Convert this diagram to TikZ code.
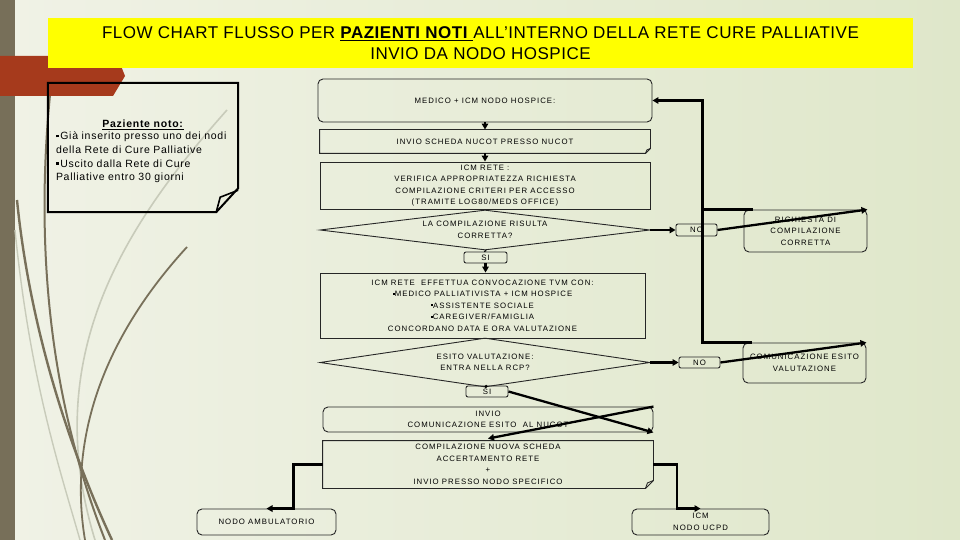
\documentclass[tikz,border=0pt]{standalone}
\usepackage{fontspec}
\setmainfont{Liberation Sans}
\newfontfamily\fcfont[LetterSpace=13]{Liberation Sans}
\newfontfamily\notefont[LetterSpace=7]{Liberation Sans}
\newfontfamily\titlefont[LetterSpace=3]{Liberation Sans}
\usetikzlibrary{shapes.geometric,arrows.meta,calc}
\definecolor{bgleft}{RGB}{240,242,230}
\definecolor{bgright}{RGB}{223,231,202}
\definecolor{barbrown}{RGB}{119,111,89}
\definecolor{redarrow}{RGB}{166,58,28}
\definecolor{curvebrown}{RGB}{120,112,90}
\definecolor{curvegrey}{RGB}{200,203,186}
\definecolor{titleyellow}{RGB}{255,255,0}
\begin{document}
\begin{tikzpicture}[x=1pt,y=-1pt,
  fc/.style={font=\fcfont\fontsize{7.8}{11.5}\selectfont},
  box/.style={draw=black!85, line width=0.9pt, inner sep=0pt, align=center, fc},
  boxline/.style={draw=black!85, line width=0.9pt},
  rbox/.style={box, rounded corners=5pt},
  diam/.style={box, diamond, aspect=8},
  conn/.style={line width=2.3pt, black},
  arr/.style={conn, -{Triangle[length=6pt,width=6.5pt]}},
  notetext/.style={inner sep=0pt, font=\notefont\fontsize{10.5}{13.6}\selectfont},
]
\useasboundingbox (0,0) rectangle (960,540);
% background
\shade[left color=bgleft, right color=bgright] (0,0) rectangle (960,540);
\fill[barbrown] (0,0) rectangle (15,540);
% decorative curves
\draw[curvegrey, line width=1.6pt] (227,110) .. controls (120,230) and (40,360) .. (95,540);
\draw[curvegrey, line width=1.4pt] (15,230) .. controls (30,380) and (60,470) .. (80,540);
\draw[curvebrown, line width=2pt] (50,95) .. controls (35,250) and (50,400) .. (105,540);
\draw[curvebrown, line width=2.4pt] (17,200) .. controls (30,330) and (70,450) .. (112,540);
\draw[curvebrown, line width=1.8pt] (187,247) .. controls (120,320) and (65,420) .. (85,540);
% red arrow
\fill[redarrow] (0,56) -- (117,56) -- (125,76) -- (113,96) -- (0,96) -- cycle;
% title
\node[fill=titleyellow, minimum width=865pt, minimum height=50pt, inner sep=0pt, align=center,
      font=\titlefont\fontsize{17}{21}\selectfont] (title) at (480.5,43)
  {FLOW CHART FLUSSO PER \underline{\textbf{PAZIENTI NOTI}\ }ALL’INTERNO DELLA RETE CURE PALLIATIVE\\INVIO DA NODO HOSPICE};
% note box
\node[minimum width=190pt, minimum height=129pt, inner sep=0pt] (note) at (143,147.5) {};
\draw[black, line width=2pt] (note.north west) -- (note.north east) -- ([yshift=24pt]note.south east)
  -- ([xshift=-22pt]note.south east) -- (note.south west) -- cycle;
\draw[black, line width=1.6pt] ([xshift=-22pt]note.south east) -- ([xshift=-18pt,yshift=15pt]note.south east)
  -- ([yshift=22pt]note.south east);
\node[notetext] (nhead) at (143,124.5) {\underline{\textbf{Paziente noto:}}};
\node[notetext, text width=182pt, align=left] (notetxt) at (147,157.5)
  {\raisebox{2.5pt}{\rule{2.6pt}{2.6pt}}\,Già inserito presso uno dei nodi\\
   della Rete di Cure Palliative\\
   \raisebox{2.5pt}{\rule{2.6pt}{2.6pt}}\,Uscito dalla Rete di Cure\\
   Palliative entro 30 giorni};
% flowchart nodes
\node[rbox, minimum width=334pt, minimum height=43pt] (medico) at (485,100.5) {MEDICO + ICM NODO HOSPICE:};
\node[box, draw=none, minimum width=330pt, minimum height=23pt] (scheda) at (485,141.5) {INVIO SCHEDA NUCOT PRESSO NUCOT};
\draw[boxline] (scheda.north west) -- (scheda.north east) -- ([yshift=5pt]scheda.south east)
  -- ([xshift=-5pt]scheda.south east) -- (scheda.south west) -- cycle;
\draw[boxline] ([yshift=5pt]scheda.south east) -- ([xshift=-3.5pt,yshift=3.5pt]scheda.south east) -- ([xshift=-5pt]scheda.south east);
\node[box, minimum width=330pt, minimum height=47pt] (icm) at (485,185.5)
  {ICM RETE :\\VERIFICA APPROPRIATEZZA RICHIESTA\\COMPILAZIONE CRITERI PER ACCESSO\\(TRAMITE LOG80/MEDS OFFICE)};
\node[diam, minimum width=330pt, minimum height=40pt] (d1) at (485,230) {LA COMPILAZIONE RISULTA\\CORRETTA?};
\node[box, rounded corners=2pt, minimum width=41pt, minimum height=12pt] (no1) at (696.5,230) {NO};
\node[rbox, minimum width=123pt, minimum height=42pt] (rich) at (805.5,231) {RICHIESTA DI\\COMPILAZIONE\\CORRETTA};
\node[box, rounded corners=2pt, minimum width=43pt, minimum height=11pt] (si1) at (485.5,257.5) {SI};
\node[box, minimum width=325pt, minimum height=65pt] (tvm) at (482.5,305.5)
  {ICM RETE \ EFFETTUA CONVOCAZIONE TVM CON:\\
   \raisebox{2pt}{\rule{2pt}{2pt}}MEDICO PALLIATIVISTA + ICM HOSPICE\\
   \raisebox{2pt}{\rule{2pt}{2pt}}ASSISTENTE SOCIALE\\
   \raisebox{2pt}{\rule{2pt}{2pt}}CAREGIVER/FAMIGLIA\\
   CONCORDANO DATA E ORA VALUTAZIONE};
\node[diam, minimum width=330pt, minimum height=49pt] (d2) at (485,362.5) {ESITO VALUTAZIONE:\\ENTRA NELLA RCP?};
\node[box, rounded corners=2pt, minimum width=41pt, minimum height=11pt] (no2) at (699.5,362.5) {NO};
\node[rbox, minimum width=123pt, minimum height=40pt] (comm) at (804.5,363) {COMUNICAZIONE ESITO\\VALUTAZIONE};
\node[box, rounded corners=2pt, minimum width=42pt, minimum height=11pt] (si2) at (487,391.5) {SI};
\node[rbox, minimum width=330pt, minimum height=25pt] (invio2) at (488,419.5) {INVIO\\COMUNICAZIONE ESITO \ AL NUCOT};
\node[box, draw=none, minimum width=330pt, minimum height=47pt] (comp) at (488,464.5)
  {COMPILAZIONE NUOVA SCHEDA\\ACCERTAMENTO RETE\\+\\INVIO PRESSO NODO SPECIFICO};
\draw[boxline] (comp.north west) -- (comp.north east) -- ([yshift=8pt]comp.south east)
  -- ([xshift=-8pt]comp.south east) -- (comp.south west) -- cycle;
\draw[boxline] ([yshift=8pt]comp.south east) -- ([xshift=-6pt,yshift=5.5pt]comp.south east) -- ([xshift=-8pt]comp.south east);
\node[rbox, minimum width=139pt, minimum height=26pt] (amb) at (266.5,522) {NODO AMBULATORIO};
\node[rbox, minimum width=137pt, minimum height=26pt] (ucpd) at (700.5,522) {ICM\\NODO UCPD};
% helper coordinates
\coordinate (fb) at ([xshift=50pt]medico.east);
\coordinate (ambk) at ([xshift=27pt]amb.north);
\coordinate (ucpdk) at ([xshift=-23.5pt]ucpd.north);
% connectors
\draw[arr] (medico.south) -- (scheda.north);
\draw[arr] (scheda.south) -- (icm.north);
\draw[conn] (d1.south) -- (si1.north);
\draw[arr] (si1.south) -- (si1.south |- tvm.north);
\draw[arr] (d1.east) -- (no1.west);
\draw[arr] (no1.east) -- (rich.north east);
\draw[arr] (d2.east) -- (no2.west);
\draw[arr] (no2.east) -- (comm.north east);
\draw[conn] (d2.south) -- (si2.north);
\draw[arr] (si2.east) -- (invio2.south east);
\draw[arr] (invio2.north east) -- ([yshift=2pt]comp.north);
\draw[arr] ([xshift=9pt]rich.north west) -| (fb) -- (medico.east);
\draw[conn] ([xshift=9pt]comm.north west) -| (fb);
\draw[arr] (comp.west) -| (ambk) -- (amb.north);
\draw[arr] (comp.east) -| (ucpdk) -- (ucpd.north);
\end{tikzpicture}
\end{document}
